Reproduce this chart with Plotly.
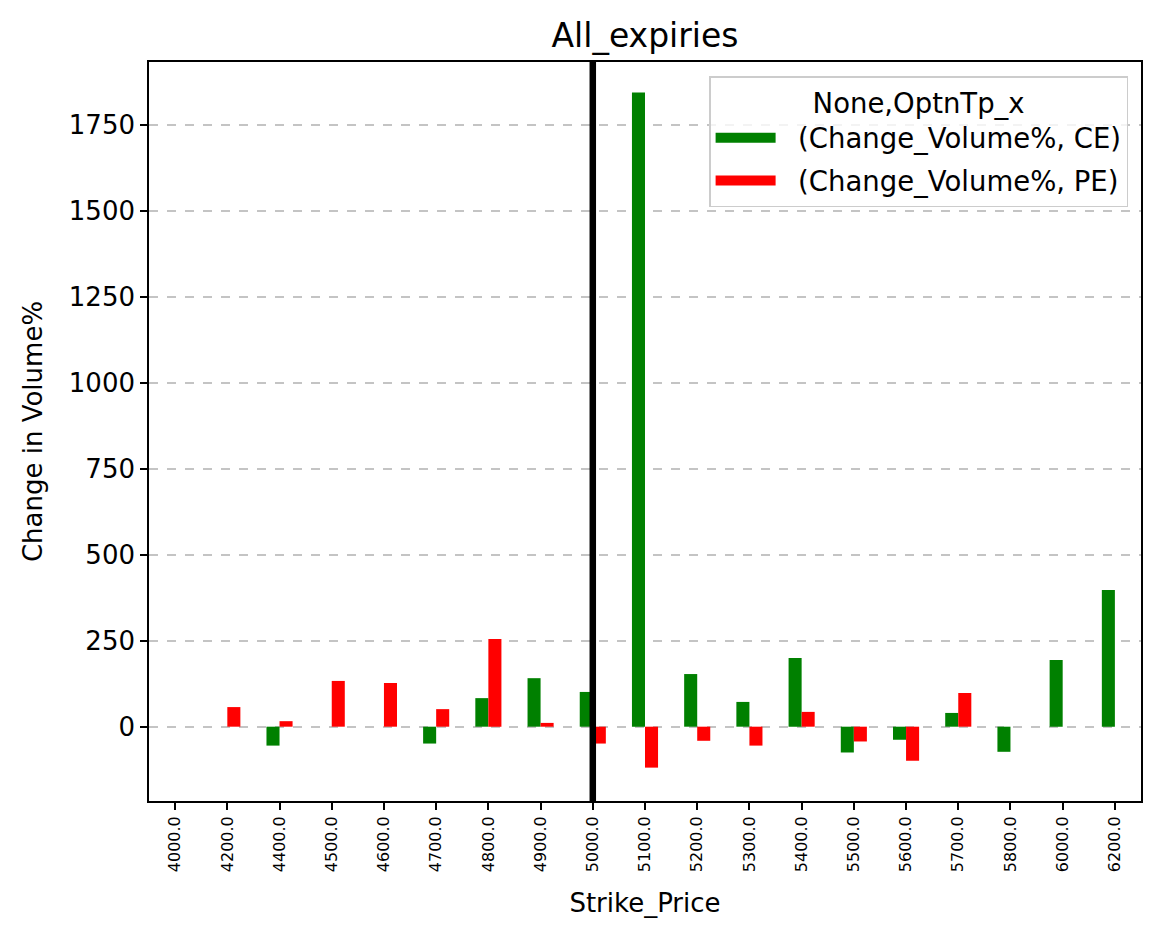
import plotly.graph_objects as go

strikes = ["4000.0", "4200.0", "4400.0", "4500.0", "4600.0", "4700.0", "4800.0", "4900.0",
           "5000.0", "5100.0", "5200.0", "5300.0", "5400.0", "5500.0", "5600.0", "5700.0",
           "5800.0", "6000.0", "6200.0"]
ce_values = [None, None, -55, None, None, -49, 83, 141, 101, 1843, 153, 72, 200, -75, -38, 40, -73, 194, 397]
pe_values = [None, 57, 16, 133, 127, 51, 255, 11, -49, -119, -41, -55, 43, -43, -99, 98, None, None, None]
ref_strike = "5000.0"
y_ticks = [0, 250, 500, 750, 1000, 1250, 1500, 1750]
series_names = ["(Change_Volume%, CE)", "(Change_Volume%, PE)"]
series_colors = ["#008000", "#ff0000"]

FONT = "DejaVu Sans"
OFF = 8  # page body margin
W, H = 1161 - OFF, 939 - OFF

fig = go.Figure()
for vals, name, col in zip([ce_values, pe_values], series_names, series_colors):
    fig.add_trace(go.Bar(x=strikes, y=vals, name=name, legendgroup=name, showlegend=False,
                         marker=dict(color=col, line=dict(width=0))))
    # legend swatch (rectangular patch like the reference)
    fig.add_trace(go.Scatter(x=[None], y=[None], mode="lines", name="\u00a0\u00a0" + name,
                             legendgroup=name, line=dict(color=col, width=18), showlegend=True))

ref_idx = strikes.index(ref_strike)
fig.add_shape(type="line", xref="x", yref="paper", x0=ref_idx, x1=ref_idx, y0=0, y1=1,
              line=dict(color="black", width=6.5), layer="above")

L, R, T, B = 149 - OFF, 20, 62 - OFF, H - (801 - OFF)

fig.update_layout(
    width=W, height=H,
    margin=dict(l=L, r=R, t=T, b=B, autoexpand=False),
    paper_bgcolor="white", plot_bgcolor="white",
    barmode="group", bargap=0.5, bargroupgap=0,
    font=dict(family=FONT, size=26, color="black"),
    title=dict(text="All_expiries", x=(L + (W - R)) / 2 / W, xanchor="center",
               y=1 - (35 - OFF) / H, yanchor="middle", font=dict(size=33, family=FONT)),
    showlegend=True,
    legend=dict(
        x=0.987, y=0.981, xanchor="right", yanchor="top",
        bgcolor="rgba(255,255,255,0.8)", bordercolor="#cccccc", borderwidth=1.5,
        title=dict(text="None,OptnTp_x", side="top center", font=dict(size=27.5, family=FONT)),
        font=dict(size=27.5, family=FONT),
        tracegroupgap=4, itemwidth=60,
    ),
    xaxis=dict(
        type="category", categoryorder="array", categoryarray=strikes,
        range=[-0.5, len(strikes) - 0.5], automargin=False,
        showgrid=False, showline=True, linecolor="black", linewidth=1.6, mirror=True,
        ticks="outside", ticklen=7, tickwidth=1.6, tickcolor="black",
        tickangle=-90, tickfont=dict(size=16, family=FONT),
        title=dict(text="Strike_Price", font=dict(size=26, family=FONT), standoff=23),
    ),
    yaxis=dict(
        range=[-216, 1932], tickvals=y_ticks, ticktext=[str(v) for v in y_ticks],
        automargin=False,
        showgrid=True, gridcolor="#c4c4c4", griddash="dash", gridwidth=1.6,
        zeroline=False,
        showline=True, linecolor="black", linewidth=1.6, mirror=True,
        ticks="outside", ticklen=7, tickwidth=1.6, tickcolor="black",
        tickfont=dict(size=26, family=FONT),
        title=dict(text="Change in Volume%", font=dict(size=26, family=FONT), standoff=19),
    ),
)

fig.write_html("out.html")
